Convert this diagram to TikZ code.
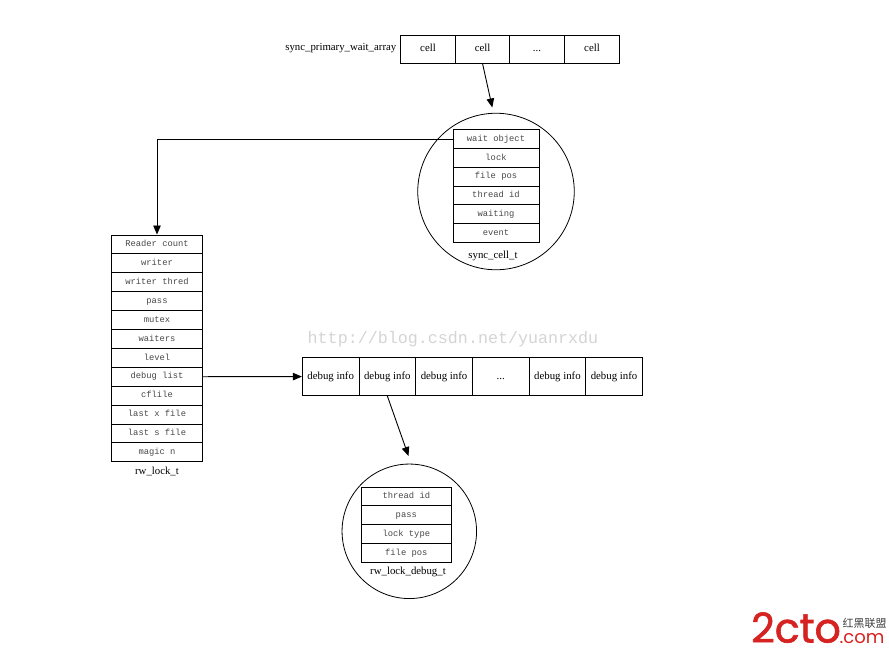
\documentclass[tikz,border=0pt]{standalone}
\usepackage{fontspec}
\setmainfont{Liberation Serif}
\newfontfamily\monof{Liberation Mono}
\newfontfamily\cjkf{Noto Sans CJK SC}
\newfontfamily\logof{Poppins}
\newfontfamily\logofb[FakeBold=1.5]{Poppins}
\usetikzlibrary{arrows.meta}
\definecolor{logored}{RGB}{214,34,32}
\tikzset{
  x=1pt,y=-1pt,
  cellbox/.style={draw=black,line width=0.9pt,inner sep=0pt,text height=7.5pt,text depth=2.2pt,minimum height=28.5pt,font=\fontsize{10.8}{12}\selectfont},
  topcell/.style={cellbox,minimum width=54.6pt},
  dbgcell/.style={cellbox,minimum width=56.7pt,minimum height=37.6pt},
  rowbox/.style={draw=black,line width=0.9pt,inner sep=0pt,text height=6.5pt,text depth=2pt,minimum height=18.9pt,text=black!72,font=\monof\fontsize{8.8}{10}\selectfont},
  syncrow/.style={rowbox,minimum width=86pt},
  rwrow/.style={rowbox,minimum width=90.6pt},
  dbgrow/.style={rowbox,minimum width=90.7pt},
  lbl/.style={inner sep=0pt,font=\fontsize{10.8}{12}\selectfont},
  bigcircle/.style={draw=black,line width=0.8pt,circle,inner sep=0pt},
  conn/.style={draw=black,line width=0.9pt,-{Triangle[length=9pt,width=7.5pt]}},
}
\begin{document}
\begin{tikzpicture}
\useasboundingbox (0,0) rectangle (889,656);
% watermark
\node[inner sep=0pt,text=black!17,font=\monof\fontsize{16.7}{20}\selectfont] (mark) at (453,339) {http://blog.csdn.net/yuanrxdu};
% top array
\node[lbl,anchor=east] (arrname) at (396.5,48.5) {sync\_primary\_wait\_array};
\node[topcell] (ca) at (428,49.2) {cell};
\node[topcell] (cb) at (482.6,49.2) {cell};
\node[topcell] (cc) at (537,49.2) {...};
\node[topcell] (cd) at (592,49.2) {cell};
% sync circle
\node[bigcircle,minimum size=156.5pt] (synccirc) at (496,191.5) {};
\node[syncrow] (s1) at (496,139) {wait object};
\node[syncrow] (s2) at (496,157.8) {lock};
\node[syncrow] (s3) at (496,176.6) {file pos};
\node[syncrow] (s4) at (496,195.4) {thread id};
\node[syncrow] (s5) at (496,214) {waiting};
\node[syncrow] (s6) at (496,232.9) {event};
\node[lbl] (synclbl) at (493,255.5) {sync\_cell\_t};
\coordinate (syncin) at (492.3,107.5);
\draw[conn] (cb.south) -- (syncin);
% rw_lock_t
\node[rwrow] (r1) at (157,244.4) {Reader count};
\node[rwrow] (r2) at (157,263.3) {writer};
\node[rwrow] (r3) at (157,282.2) {writer thred};
\node[rwrow] (r4) at (157,301.1) {pass};
\node[rwrow] (r5) at (157,320) {mutex};
\node[rwrow] (r6) at (157,338.9) {waiters};
\node[rwrow] (r7) at (157,357.8) {level};
\node[rwrow] (r8) at (157,376.7) {debug list};
\node[rwrow] (r9) at (157,395.6) {cflile};
\node[rwrow] (r10) at (157,414.5) {last x file};
\node[rwrow] (r11) at (157,433.4) {last s file};
\node[rwrow] (r12) at (157,452.3) {magic n};
\node[lbl] (rwlbl) at (157,471) {rw\_lock\_t};
\draw[conn] (s1.west) -| (r1.north);
% debug array
\node[dbgcell] (d1) at (330.7,376.6) {debug info};
\node[dbgcell] (d2) at (387.3,376.6) {debug info};
\node[dbgcell] (d3) at (444,376.6) {debug info};
\node[dbgcell] (d4) at (500.7,376.6) {...};
\node[dbgcell] (d5) at (557.4,376.6) {debug info};
\node[dbgcell] (d6) at (614,376.6) {debug info};
\draw[conn] (r8.east) -- (d1.west);
% debug circle
\node[bigcircle,minimum size=134.5pt] (dbgcirc) at (409.3,531.3) {};
\node[dbgrow] (g1) at (406.3,496.4) {thread id};
\node[dbgrow] (g2) at (406.3,515.2) {pass};
\node[dbgrow] (g3) at (406.3,534) {lock type};
\node[dbgrow] (g4) at (406.3,552.9) {file pos};
\node[lbl] (dbglbl) at (408,571.5) {rw\_lock\_debug\_t};
\coordinate (dbgin) at (408.5,456);
\draw[conn] (d2.south) -- (dbgin);
% logo
\node[inner sep=0pt,anchor=base west,text=logored,font=\logofb\fontsize{41}{44}\selectfont] (logo) at (751,642.5) {2cto};
\node[inner sep=0pt,anchor=base west,text=logored,font=\logof\fontsize{18}{19}\selectfont] (logob) at (839.5,643) {.com};
\node[inner sep=0pt,anchor=west,text=black!75,font=\cjkf\fontsize{11}{12}\selectfont] (logoc) at (842.5,623.5) {红黑联盟};
\end{tikzpicture}
\end{document}
